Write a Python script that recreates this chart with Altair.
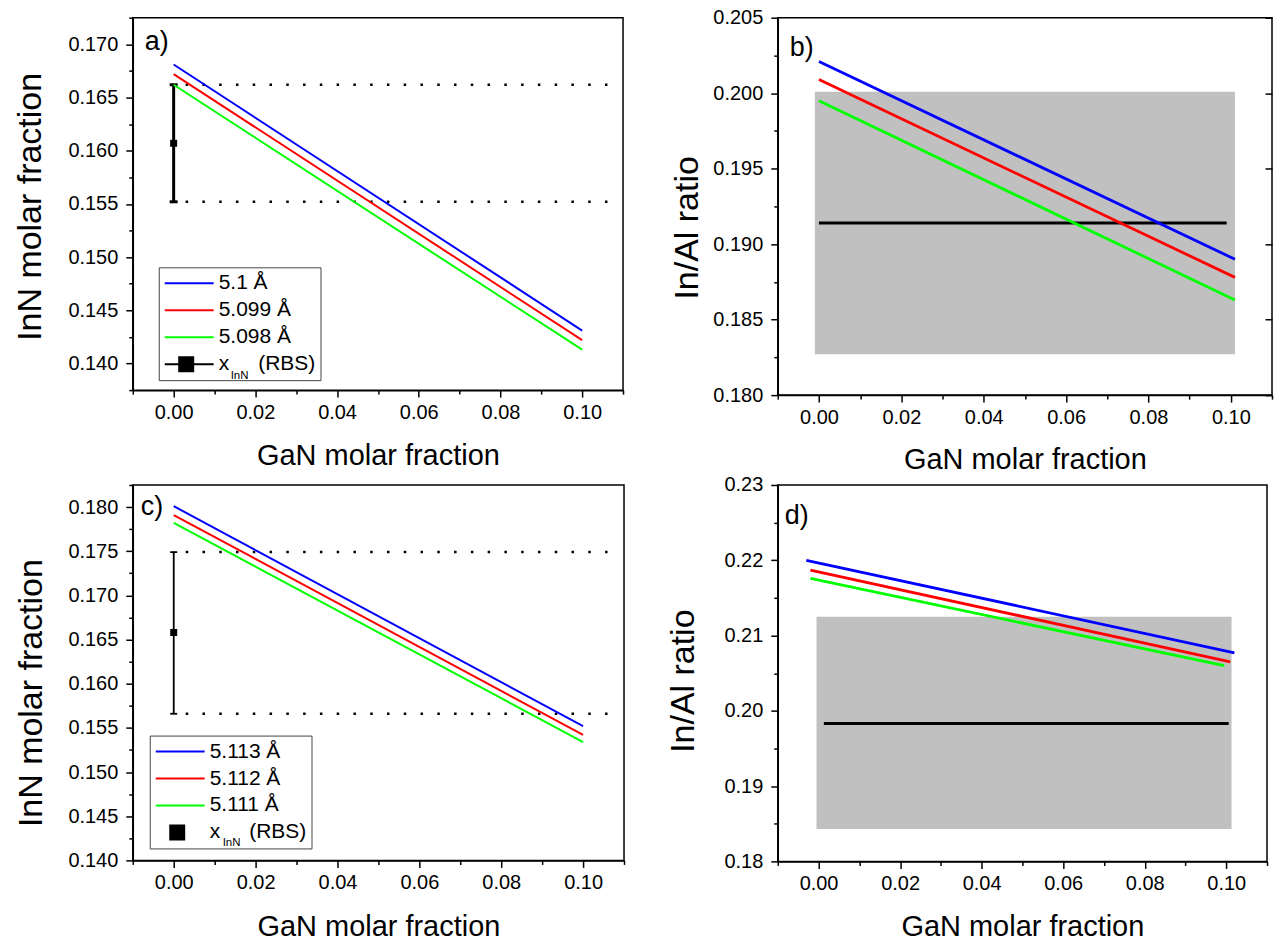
import altair as alt
import pandas as pd

FONT = "Liberation Sans"

# ---------------- data ----------------
SER_A = ["5.1 Å", "5.099 Å", "5.098 Å"]
SER_C = ["5.113 Å", "5.112 Å", "5.111 Å"]
RBS_LABEL = "x\u00a0\u00a0\u00a0\u00a0\u00a0(RBS)"
LINE_COLORS = ["#0000ff", "#ff0000", "#00ff00"]

# panel a (InN molar fraction vs GaN molar fraction)
A_X = [0.0, 0.1]
A_BLUE = [0.1681, 0.1431]
A_RED = [0.1672, 0.1422]
A_GREEN = [0.1662, 0.1413]
A_RBS_X = [0.0]
A_RBS_Y = [0.1607]
A_RBS_LO = [0.1552]
A_RBS_HI = [0.1662]
A_DOT_Y = [0.1662, 0.1552]
A_DOT_X = [0.0, 0.108]

# panel b (In/Al ratio)
B_X = [0.0, 0.101]
B_BLUE = [0.2021, 0.1890]
B_RED = [0.2009, 0.1878]
B_GREEN = [0.1995, 0.1863]
B_BAND_X = [-0.001, 0.101]
B_BAND_Y = [0.1827, 0.2001]
B_REF_X = [0.0, 0.099]
B_REF_Y = [0.1914]

# panel c
C_X = [0.0, 0.1]
C_BLUE = [0.1801, 0.1552]
C_RED = [0.1791, 0.1542]
C_GREEN = [0.1782, 0.1534]
C_RBS_X = [0.0]
C_RBS_Y = [0.1658]
C_RBS_LO = [0.1566]
C_RBS_HI = [0.1749]
C_DOT_Y = [0.1749, 0.1566]
C_DOT_X = [0.0, 0.108]

# panel d
D_BLUE_X = [-0.003, 0.102]
D_BLUE = [0.2200, 0.2077]
D_RED_X = [-0.002, 0.101]
D_RED = [0.2187, 0.2065]
D_GREEN_X = [-0.002, 0.0995]
D_GREEN = [0.2176, 0.2060]
D_BAND_X = [-0.0005, 0.1013]
D_BAND_Y = [0.1843, 0.2125]
D_REF_X = [0.0013, 0.1006]
D_REF_Y = [0.1983]

# axis ticks
X_TICKS = [round(-0.01 + 0.01 * i, 2) for i in range(13)]
A_Y_TICKS = [round(0.1375 + 0.0025 * i, 4) for i in range(15)]
B_Y_TICKS = [round(0.18 + 0.0025 * i, 4) for i in range(11)]
B_Y_MAJOR = [0.18, 0.185, 0.19, 0.195, 0.2, 0.205]
C_Y_TICKS = [round(0.14 + 0.0025 * i, 4) for i in range(18)]
D_Y_TICKS = [round(0.18 + 0.005 * i, 3) for i in range(11)]

# ---------------- styling helpers ----------------
LINE_PATH = "M-1,0H3.9"
_hatch = [-0.7 + 0.175 * i for i in range(9)]
SQUARE_PATH = "".join(f"M0.35,{v:.4f}H1.95" for v in _hatch)
A_RBS_PATH = LINE_PATH + SQUARE_PATH
C_RBS_PATH = SQUARE_PATH


def xaxis(title_y):
    test = "round(datum.value*100) % 2 == 0"
    return alt.Axis(
        values=X_TICKS, title="GaN molar fraction", titleFontSize=29, titleY=title_y,
        labelExpr=f"{test} ? format(datum.value, '.2f') : ''",
        tickSize={"condition": {"test": test, "value": 7}, "value": 4},
        labelOverlap=False, labelFlush=False, labelPadding=5,
    )


def yaxis(title, values, mult, fmt, tx, ty):
    test = f"round(datum.value*{mult}) % 2 == 0"
    return alt.Axis(
        values=values, title=title, titleFontSize=34, titleX=tx, titleY=ty,
        titleBaseline="top", titleAlign="center", titleAngle=270,
        labelExpr=f"{test} ? format(datum.value, '{fmt}') : ''",
        tickSize={"condition": {"test": test, "value": 7}, "value": 4},
        labelOverlap=False, labelPadding=8,
    )


def make_legend(lx, ly):
    return alt.Legend(
        orient="none", legendX=lx, legendY=ly, title=None,
        strokeColor="#444444", padding=5,
        labelFont=FONT, labelFontSize=21, labelColor="black", labelLimit=0,
        labelOffset=33, symbolSize=400, symbolStrokeWidth=2, symbolOpacity=1,
        rowPadding=6,
    )


def lines_layer(series, xs_list, ys_list, X, Y, cscale, sw, leg):
    rows = []
    for name, xs, ys in zip(series, xs_list, ys_list):
        for xv, yv in zip(xs, ys):
            rows.append({"x": xv, "y": yv, "series": name})
    return alt.Chart(pd.DataFrame(rows)).mark_line(strokeWidth=sw).encode(
        x=X("x"), y=Y("y"),
        color=alt.Color("series:N", scale=cscale, legend=leg),
        detail="series:N",
    )


def legend_layer(series, xs, ys, X, Y, cscale, shscale, leg):
    df = pd.DataFrame({"x": xs, "y": ys, "series": series})
    return alt.Chart(df).mark_point(filled=False, strokeWidth=2, size=400).encode(
        x=X("x"), y=Y("y"),
        color=alt.Color("series:N", scale=cscale, legend=leg),
        shape=alt.Shape("series:N", scale=shscale, legend=leg),
        opacity=alt.value(0),
    )


def text_layer(txt, px, py, size):
    return alt.Chart(pd.DataFrame({"t": [txt]})).mark_text(
        font=FONT, fontSize=size, align="left", baseline="middle", color="black"
    ).encode(x=alt.value(px), y=alt.value(py), text="t:N")


def rbs_layers(rx, ry, lo, hi, dot_y, dot_x, X, Y, bar_w, cap, sq):
    err = pd.DataFrame({"x": rx, "lo": lo, "hi": hi})
    caps = pd.DataFrame({"x": rx * 2, "y": lo + hi})
    pt = pd.DataFrame({"x": rx, "y": ry})
    dots = pd.DataFrame({"y": dot_y, "x0": [dot_x[0]] * len(dot_y), "x1": [dot_x[1]] * len(dot_y)})
    l_dots = alt.Chart(dots).mark_rule(color="black", strokeWidth=2.5, strokeDash=[2.5, 14.3],
                                       strokeDashOffset=4.8).encode(
        x=X("x0"), x2="x1:Q", y=Y("y"))
    l_bar = alt.Chart(err).mark_rule(color="black", strokeWidth=bar_w).encode(
        x=X("x"), y=Y("lo"), y2="hi:Q")
    l_caps = alt.Chart(caps).mark_point(shape="stroke", size=cap * cap, strokeWidth=bar_w,
                                        color="black", opacity=1).encode(x=X("x"), y=Y("y"))
    l_pt = alt.Chart(pt).mark_square(size=sq * sq, color="black", opacity=1).encode(x=X("x"), y=Y("y"))
    return [l_dots, l_bar, l_caps, l_pt]


def band_layers(bx, by, rx, ry, X, Y):
    band = pd.DataFrame({"x0": [bx[0]], "x1": [bx[1]], "y0": [by[0]], "y1": [by[1]]})
    ref = pd.DataFrame({"x0": [rx[0]], "x1": [rx[1]], "y": ry})
    l_band = alt.Chart(band).mark_rect(color="#c0c0c0").encode(
        x=X("x0"), x2="x1:Q", y=Y("y0"), y2="y1:Q")
    l_ref = alt.Chart(ref).mark_rule(color="black", strokeWidth=3).encode(
        x=X("x0"), x2="x1:Q", y=Y("y"))
    return [l_band, l_ref]


XS = alt.Scale(domain=[-0.01, 0.11], nice=False, zero=False)


def make_XY(ydom, yax, xtitle_y):
    ys = alt.Scale(domain=ydom, nice=False, zero=False)
    xa = xaxis(xtitle_y)

    def X(f):
        return alt.X(f"{f}:Q", scale=XS, axis=xa)

    def Y(f):
        return alt.Y(f"{f}:Q", scale=ys, axis=yax)
    return X, Y, ys


# ---------------- panel a ----------------
WA, HA = 491, 373
Xa, Ya, _ = make_XY([0.1375, 0.1725], yaxis("InN molar fraction", A_Y_TICKS, 400, ".3f", -119, 189), 51)
cs_a = alt.Scale(domain=SER_A + [RBS_LABEL], range=LINE_COLORS + ["#000000"])
sh_a = alt.Scale(domain=SER_A + [RBS_LABEL], range=[LINE_PATH] * 3 + [A_RBS_PATH])
leg_a = make_legend(26, 250)
panel_a = alt.layer(
    *rbs_layers(A_RBS_X, A_RBS_Y, A_RBS_LO, A_RBS_HI, A_DOT_Y, A_DOT_X, Xa, Ya, 3, 8, 7),
    legend_layer(SER_A + [RBS_LABEL], [A_X[0]] * 3 + A_RBS_X, [A_BLUE[0], A_RED[0], A_GREEN[0]] + A_RBS_Y,
                 Xa, Ya, cs_a, sh_a, leg_a),
    lines_layer(SER_A, [A_X] * 3, [A_BLUE, A_RED, A_GREEN], Xa, Ya, cs_a, 2, leg_a),
    text_layer("InN", 98, 359, 11.5),
    text_layer("a)", 12, 24, 27),
).properties(width=WA, height=HA)

# ---------------- panel b ----------------
WB, HB = 495, 378
Xb, Yb, ys_b = make_XY([0.18, 0.205], yaxis("In/Al ratio", B_Y_TICKS, 400, ".3f", -107, 210), 50)
cs_b = alt.Scale(domain=SER_A, range=LINE_COLORS)
inner_b = alt.layer(
    *band_layers(B_BAND_X, B_BAND_Y, B_REF_X, B_REF_Y, Xb, Yb),
    lines_layer(SER_A, [B_X] * 3, [B_BLUE, B_RED, B_GREEN], Xb, Yb, cs_b, 2.8, None),
    text_layer("b)", 12, 30, 27),
)
right_b = alt.Chart(pd.DataFrame({"y": B_REF_Y})).mark_point(opacity=0).encode(
    x=alt.value(0),
    y=alt.Y("y:Q", scale=ys_b, axis=alt.Axis(orient="right", values=B_Y_MAJOR, labels=False, domain=False,
                                             title=None, tickSize=7, offset=-7)),
)
panel_b = alt.layer(inner_b, right_b).resolve_axis(y="independent").properties(width=WB, height=HB)

# ---------------- panel c ----------------
WC, HC = 492, 376
Xc, Yc, _ = make_XY([0.14, 0.1825], yaxis("InN molar fraction", C_Y_TICKS, 400, ".3f", -118, 208), 52)
cs_c = alt.Scale(domain=SER_C + [RBS_LABEL], range=LINE_COLORS + ["#000000"])
sh_c = alt.Scale(domain=SER_C + [RBS_LABEL], range=[LINE_PATH] * 3 + [C_RBS_PATH])
leg_c = make_legend(17, 251)
panel_c = alt.layer(
    *rbs_layers(C_RBS_X, C_RBS_Y, C_RBS_LO, C_RBS_HI, C_DOT_Y, C_DOT_X, Xc, Yc, 1.8, 7, 7),
    legend_layer(SER_C + [RBS_LABEL], [C_X[0]] * 3 + C_RBS_X, [C_BLUE[0], C_RED[0], C_GREEN[0]] + C_RBS_Y,
                 Xc, Yc, cs_c, sh_c, leg_c),
    lines_layer(SER_C, [C_X] * 3, [C_BLUE, C_RED, C_GREEN], Xc, Yc, cs_c, 2, leg_c),
    text_layer("InN", 90, 359, 11.5),
    text_layer("c)", 8, 22, 27),
).properties(width=WC, height=HC)

# ---------------- panel d ----------------
WD, HD = 490, 377
Xd, Yd, _ = make_XY([0.18, 0.23], yaxis("In/Al ratio", D_Y_TICKS, 200, ".2f", -111, 196), 51)
cs_d = alt.Scale(domain=SER_C, range=LINE_COLORS)
panel_d = alt.layer(
    *band_layers(D_BAND_X, D_BAND_Y, D_REF_X, D_REF_Y, Xd, Yd),
    lines_layer(SER_C, [D_BLUE_X, D_RED_X, D_GREEN_X], [D_BLUE, D_RED, D_GREEN], Xd, Yd, cs_d, 2.8, None),
    text_layer("d)", 7, 31, 27),
).properties(width=WD, height=HD)

chart = alt.concat(
    panel_a, panel_b, panel_c, panel_d,
    columns=2, spacing={"row": 90, "column": 154}, bounds="flush", align="each",
).resolve_scale(
    color="independent", shape="independent"
).resolve_legend(
    color="independent", shape="independent"
).properties(
    padding={"left": 13, "top": 6, "right": 0, "bottom": 0},
    background="white",
).configure_view(
    stroke="black", strokeWidth=1.5
).configure_axis(
    domainColor="black", domainWidth=1.5, tickColor="black", tickWidth=1.5,
    labelFont=FONT, labelFontSize=20, labelColor="black",
    titleFont=FONT, titleFontWeight="normal", titleColor="black", grid=False,
)

chart.save("out.html", embed_options={"renderer": "svg", "actions": False})
